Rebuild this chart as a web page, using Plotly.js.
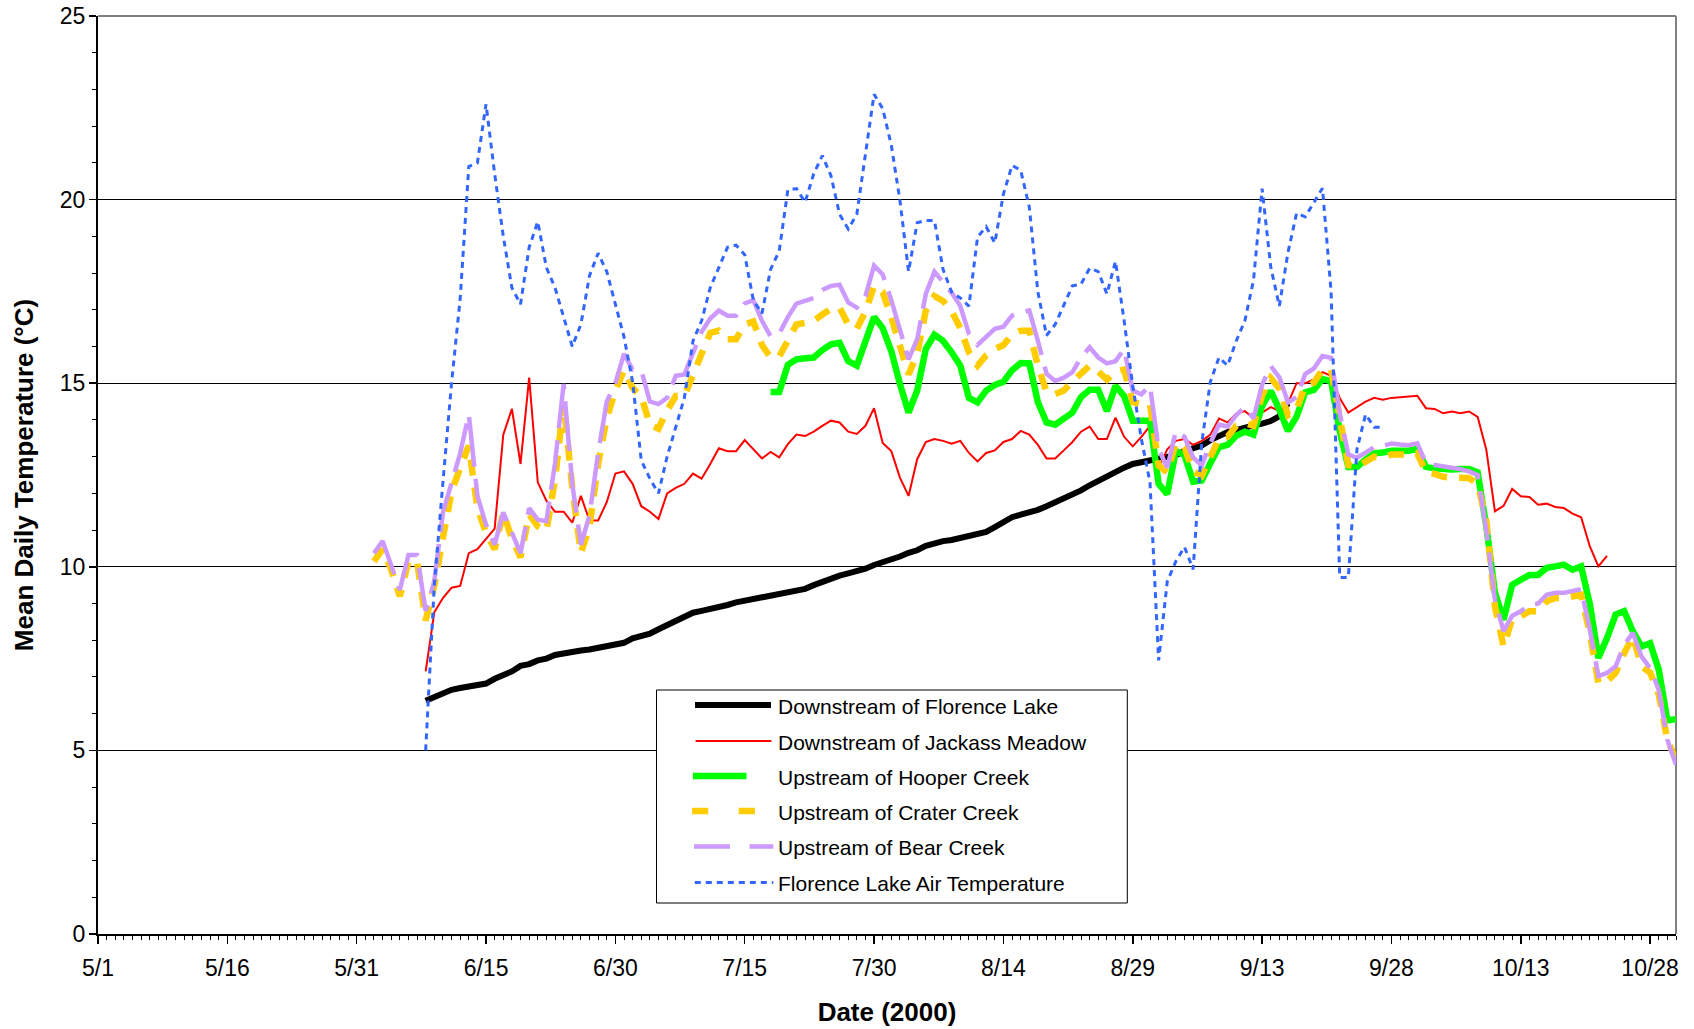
<!DOCTYPE html>
<html>
<head>
<meta charset="utf-8">
<script src="https://cdn.plot.ly/plotly-3.0.1.min.js"></script>
<style>
  html, body { margin: 0; padding: 0; background: #ffffff; }
  #chart { width: 1694px; height: 1029px; }
</style>
</head>
<body>
<div id="chart"></div>
<script>
// Mean daily temperatures (°C), one value per day from each start date.

const florenceStart = '2000-06-08';
const florenceLake = [
  6.35, 6.45, 6.55, 6.65, 6.7, 6.75, 6.8, 6.82, 6.95, 7.05,
  7.15, 7.3, 7.35, 7.45, 7.5, 7.6, 7.65, 7.7, 7.72, 7.75,
  7.8, 7.82, 7.86, 7.93, 8.05, 8.1, 8.18, 8.3, 8.42, 8.53,
  8.65, 8.75, 8.8, 8.84, 8.88, 8.96, 9.03, 9.08, 9.12, 9.15,
  9.2, 9.25, 9.3, 9.34, 9.4, 9.5, 9.6, 9.68, 9.76, 9.82,
  9.87, 9.95, 10.05, 10.12, 10.2, 10.28, 10.38, 10.45, 10.57, 10.65,
  10.7, 10.73, 10.78, 10.82, 10.88, 10.95, 11.08, 11.2, 11.35, 11.42,
  11.48, 11.55, 11.65, 11.76, 11.85, 11.95, 12.08, 12.22, 12.35, 12.48,
  12.6, 12.7, 12.8, 12.85, 12.88, 12.92, 12.98, 13.04, 13.15, 13.22,
  13.3, 13.45, 13.58, 13.67, 13.72, 13.8, 13.85, 13.9, 13.97, 14.1,
  14.45
];

const jackassStart = '2000-06-08';
const jackassMeadow = [
  7.15, 8.76, 9.15, 9.43, 9.48, 10.37, 10.48, 10.76, 11.04, 13.6,
  14.3, 12.8, 15.15, 12.3, 11.8, 11.5, 11.5, 11.2, 11.93, 11.26,
  11.26, 11.76, 12.54, 12.6, 12.26, 11.65, 11.5, 11.3, 12.0, 12.15,
  12.26, 12.54, 12.4, 12.8, 13.23, 13.15, 13.15, 13.45, 13.2, 12.95,
  13.13, 12.98, 13.34, 13.6, 13.56, 13.68, 13.84, 13.98, 13.93, 13.68,
  13.62, 13.84, 14.32, 13.37, 13.15, 12.43, 11.93, 12.93, 13.4, 13.48,
  13.43, 13.35, 13.43, 13.1, 12.87, 13.1, 13.17, 13.4, 13.48, 13.7,
  13.6, 13.32, 12.95, 12.95, 13.17, 13.4, 13.68, 13.82, 13.48, 13.48,
  14.06, 13.54, 13.28, 13.54, 13.84, 12.7, 13.2, 13.43, 13.48, 13.32,
  13.43, 13.6, 14.04, 13.93, 14.17, 14.24, 14.05, 14.2, 14.35, 14.25,
  14.45, 15.0, 15.0, 15.1, 15.3, 15.2, 14.6, 14.2, 14.35, 14.5,
  14.6, 14.55, 14.6, 14.62, 14.62, 14.66, 14.32, 14.3, 14.18, 14.23,
  14.18, 14.23, 14.08, 13.19, 11.51, 11.66, 12.12, 11.92, 11.9, 11.69,
  11.72, 11.63, 11.6, 11.45, 11.35, 10.56, 10.01, 10.3
];

const hooperStart = '2000-07-18';
const hooperCreek = [
  14.76, 14.76, 15.5, 15.65, 15.68, 15.7, 15.9, 16.06, 16.1, 15.6,
  15.48, 16.15, 16.8, 16.5, 15.87, 14.98, 14.2, 14.8, 15.93, 16.32,
  16.15, 15.84, 15.48, 14.6, 14.48, 14.8, 14.95, 15.04, 15.35, 15.55,
  15.54, 14.48, 13.93, 13.87, 14.06, 14.2, 14.62, 14.82, 14.82, 14.24,
  14.93, 14.65, 13.98, 13.98, 13.98, 12.26, 11.98, 13.15, 13.04, 12.32,
  12.35, 12.82, 13.26, 13.32, 13.57, 13.68, 13.6, 14.38, 14.79, 14.28,
  13.7, 14.09, 14.75, 14.82, 15.11, 15.06, 13.7, 12.72, 12.72, 12.92,
  13.09, 13.11, 13.16, 13.16, 13.16, 13.21, 12.72, 12.68, 12.65, 12.65,
  12.66, 12.66, 12.57, 11.1, 9.3, 8.56, 9.51, 9.67, 9.78, 9.78,
  9.97, 10.01, 10.06, 9.92, 10.01, 9.0, 7.52, 8.06, 8.7, 8.79,
  8.24, 7.83, 7.92, 7.2, 5.82, 5.85
];

const craterStart = '2000-06-02';
const craterCreek = [
  10.15, 10.48, 9.93, 9.2, 10.15, 10.15, 8.54, 9.48, 10.8, 12.04,
  12.7, 13.3, 11.6, 10.93, 10.48, 11.48, 10.76, 10.26, 11.43, 11.1,
  10.98, 12.37, 14.48, 12.15, 10.37, 11.1, 12.8, 14.05, 14.8, 15.35,
  14.87, 14.65, 13.87, 13.76, 14.26, 14.65, 14.65, 15.26, 15.8, 16.37,
  16.43, 16.2, 16.2, 16.6, 16.68, 16.04, 15.7, 15.73, 16.15, 16.6,
  16.64, 16.7, 16.87, 17.02, 17.06, 16.6, 16.48, 16.95, 17.65, 17.48,
  16.8, 15.98, 15.24, 15.8, 16.98, 17.37, 17.24, 16.96, 16.5, 15.84,
  15.48, 15.76, 15.93, 16.04, 16.32, 16.43, 16.43, 15.48, 14.76, 14.7,
  14.8, 15.04, 15.26, 15.48, 15.32, 15.1, 15.32, 15.37, 14.48, 14.43,
  14.43, 12.76, 12.57, 13.37, 13.26, 12.6, 12.48, 13.04, 13.5, 13.54,
  13.84, 13.91, 13.84, 14.67, 15.14, 14.86, 14.13, 14.28, 14.94, 15.01,
  15.37, 15.37, 13.99, 12.77, 12.72, 12.87, 13.0, 12.97, 13.06, 13.06,
  13.04, 13.09, 12.58, 12.53, 12.45, 12.43, 12.42, 12.42, 12.26, 11.25,
  8.92, 7.83, 8.58, 8.65, 8.79, 8.79, 9.06, 9.15, 9.15, 9.2,
  9.24, 8.2, 6.83, 6.88, 7.11, 7.65, 8.11, 7.29, 7.12, 6.52,
  5.29, 4.75
];

const bearStart = '2000-06-02';
const bearCreek = [
  10.37, 10.7, 10.04, 9.37, 10.32, 10.32, 8.8, 9.6, 11.48, 12.3,
  13.09, 14.15, 11.93, 11.15, 10.6, 11.48, 10.93, 10.37, 11.6, 11.28,
  11.24, 12.82, 14.98, 12.26, 10.6, 11.4, 13.1, 14.5, 15.0, 15.8,
  15.37, 15.35, 14.5, 14.43, 14.6, 15.2, 15.24, 15.8, 16.4, 16.76,
  16.98, 16.84, 16.84, 17.17, 17.26, 16.7, 16.28, 16.35, 16.8, 17.17,
  17.26, 17.32, 17.54, 17.65, 17.68, 17.2, 17.06, 17.37, 18.2, 17.96,
  17.26, 16.43, 15.65, 16.2, 17.43, 18.04, 17.76, 17.46, 17.1, 16.35,
  16.04, 16.24, 16.48, 16.54, 16.84, 16.93, 16.98, 16.15, 15.26, 15.06,
  15.15, 15.3, 15.7, 15.98, 15.7, 15.54, 15.6, 15.93, 14.8, 14.7,
  14.93, 13.2, 12.7, 13.7, 13.54, 12.98, 12.76, 13.37, 13.87, 13.82,
  14.13, 14.35, 14.04, 14.96, 15.47, 15.16, 14.48, 14.62, 15.25, 15.4,
  15.74, 15.69, 14.18, 13.06, 12.97, 13.11, 13.26, 13.29, 13.36, 13.33,
  13.31, 13.36, 12.82, 12.77, 12.72, 12.7, 12.66, 12.6, 12.5, 11.0,
  9.1, 8.25, 8.67, 8.79, 8.97, 9.0, 9.24, 9.29, 9.29, 9.33,
  9.39, 8.3, 7.02, 7.11, 7.29, 7.88, 8.2, 7.56, 7.24, 6.65,
  5.29, 4.61
];

const airStart = '2000-06-08';
const airTemperature = [
  5.0, 9.5, 12.3, 15.0, 17.3, 20.9, 21.0, 22.6, 20.7, 19.0,
  17.6, 17.15, 18.7, 19.4, 18.15, 17.6, 16.8, 16.0, 16.6, 17.93,
  18.54, 18.04, 17.15, 16.26, 15.04, 12.9, 12.4, 12.0, 13.0, 13.8,
  14.6, 16.15, 16.7, 17.6, 18.15, 18.7, 18.76, 18.5, 17.26, 16.9,
  18.1, 18.6, 20.26, 20.3, 19.93, 20.7, 21.2, 20.65, 19.6, 19.2,
  19.6, 21.26, 22.87, 22.48, 21.48, 19.98, 18.04, 19.37, 19.43, 19.43,
  18.1, 17.48, 17.32, 17.1, 18.98, 19.26, 18.82, 20.15, 20.93, 20.8,
  19.8, 17.48, 16.3, 16.6, 17.15, 17.65, 17.7, 18.13, 18.04, 17.43,
  18.32, 16.7, 14.93, 13.48, 12.3, 7.45, 9.6, 10.15, 10.54, 9.93,
  13.37, 15.04, 15.7, 15.48, 16.15, 16.7, 17.8, 20.3, 18.17, 17.1,
  18.56, 19.63, 19.53, 19.92, 20.31, 17.5, 9.71, 9.71, 13.2, 14.15,
  13.8, 13.8
];

const seriesNames = [
  'Downstream of Florence Lake',
  'Downstream of Jackass Meadow',
  'Upstream of Hooper Creek',
  'Upstream of Crater Creek',
  'Upstream of Bear Creek',
  'Florence Lake Air Temperature'
];

const xAxisTitle = 'Date (2000)';
const yAxisTitle = 'Mean Daily Temperature (°C)';

// ---- helpers -------------------------------------------------------------

function dailyDates(start, count) {
  const t0 = Date.parse(start + 'T00:00:00Z');
  const out = [];
  for (let i = 0; i < count; i++) {
    out.push(new Date(t0 + i * 86400000).toISOString().slice(0, 10));
  }
  return out;
}

const FONT = 'Liberation Sans, Arial, Helvetica, sans-serif';
const W = 1694, H = 1029;
const margin = { l: 98, r: 18, t: 16, b: 95 };
const plotW = W - margin.l - margin.r;
const plotH = H - margin.t - margin.b;
// page pixel -> paper fraction (used for the legend block)
const px = x => (x - margin.l) / plotW;
const py = y => (H - margin.b - y) / plotH;

// ---- line styles ---------------------------------------------------------

const styles = [
  { color: '#000000', width: 6,   dash: 'solid' },
  { color: '#FF0000', width: 2,   dash: 'solid' },
  { color: '#00FF00', width: 6.5, dash: 'solid' },
  { color: '#FFCC00', width: 6.5, dash: '16px,12px' },
  { color: '#CC99FF', width: 4.5, dash: '50px,12px' },
  { color: '#3366FF', width: 3,   dash: '6px,5px' }
];

const seriesData = [
  [florenceStart, florenceLake],
  [jackassStart, jackassMeadow],
  [hooperStart, hooperCreek],
  [craterStart, craterCreek],
  [bearStart, bearCreek],
  [airStart, airTemperature]
];

const traces = seriesData.map(([start, vals], i) => ({
  type: 'scatter',
  mode: 'lines',
  name: seriesNames[i],
  x: dailyDates(start, vals.length),
  y: vals,
  line: { color: styles[i].color, width: styles[i].width, dash: styles[i].dash },
  showlegend: false,
  hoverinfo: 'skip'
}));

// ---- legend block --------------------------------------------------------

const legendBox = { x0: 656.5, x1: 1127.3, y0: 690, y1: 903 };
const legendRows = [705, 741, 776, 811, 846.5, 882.5];
const legendTextX = 776;
const legendSamples = [
  [[695, 771]],
  [[695.6, 771.4]],
  [[692.9, 746.5]],
  [[692.1, 708.2], [738.8, 754.9]],
  [[694, 730], [749.5, 773.3]],
  [[694.8, 773.3]]
];

const shapes = [
  // upper and right frame of the plot area
  { type: 'line', xref: 'paper', yref: 'paper', x0: 0, x1: 1, y0: 1, y1: 1,
    line: { color: '#808080', width: 2 }, layer: 'between' },
  { type: 'line', xref: 'paper', yref: 'paper', x0: 1, x1: 1, y0: 0, y1: 1,
    line: { color: '#808080', width: 2 }, layer: 'between' },
  { type: 'rect', xref: 'paper', yref: 'paper',
    x0: px(legendBox.x0), x1: px(legendBox.x1), y0: py(legendBox.y1), y1: py(legendBox.y0),
    line: { color: '#000000', width: 1 }, fillcolor: '#ffffff', layer: 'above' }
];

legendSamples.forEach((segs, i) => {
  const st = styles[i];
  segs.forEach(([a, b]) => {
    shapes.push({
      type: 'line', xref: 'paper', yref: 'paper',
      x0: px(a), x1: px(b), y0: py(legendRows[i]), y1: py(legendRows[i]),
      line: { color: st.color, width: st.width, dash: i === 5 ? st.dash : 'solid' },
      layer: 'above'
    });
  });
});

const annotations = seriesNames.map((name, i) => ({
  xref: 'paper', yref: 'paper',
  x: px(legendTextX), y: py(legendRows[i] + 1),
  xanchor: 'left', yanchor: 'middle',
  text: name, showarrow: false,
  font: { family: FONT, size: 21, color: '#000000' }
}));

// ---- axes ----------------------------------------------------------------

const DAY = 86400000;
const xRange = ['2000-05-01', '2000-10-31'];

const layout = {
  width: W, height: H,
  margin: margin,
  paper_bgcolor: '#ffffff',
  plot_bgcolor: '#ffffff',
  showlegend: false,
  hovermode: false,
  xaxis: {
    type: 'date', range: xRange,
    tick0: '2000-05-01', dtick: 15 * DAY, tickformat: '%-m/%-d',
    ticks: 'outside', ticklen: 8, tickwidth: 1.5, tickcolor: '#000000',
    minor: { dtick: DAY, ticks: 'outside', ticklen: 4, tickwidth: 1, tickcolor: '#000000', showgrid: false },
    showline: true, linecolor: '#000000', linewidth: 2,
    showgrid: false, zeroline: false,
    tickfont: { family: FONT, size: 23, color: '#000000' },
    ticklabelstandoff: 4,
    title: { text: xAxisTitle, standoff: 23,
             font: { family: FONT, size: 26, color: '#000000', weight: 'bold' } },
    fixedrange: true
  },
  // same date scale, ticks drawn upward so every day mark crosses the axis line
  xaxis2: {
    type: 'date', range: xRange, overlaying: 'x', anchor: 'y', side: 'bottom',
    tick0: '2000-05-01', dtick: 15 * DAY,
    ticks: 'inside', ticklen: 4, tickwidth: 1.5, tickcolor: '#000000',
    minor: { dtick: DAY, ticks: 'inside', ticklen: 4, tickwidth: 1, tickcolor: '#000000', showgrid: false },
    showticklabels: false, showline: false, showgrid: false, zeroline: false,
    fixedrange: true
  },
  yaxis: {
    range: [0, 25], tick0: 0, dtick: 5,
    ticks: 'outside', ticklen: 7, tickwidth: 1.5, tickcolor: '#000000',
    minor: { dtick: 1, ticks: 'outside', ticklen: 4, tickwidth: 1, tickcolor: '#000000', showgrid: false },
    showline: true, linecolor: '#000000', linewidth: 2,
    showgrid: true, gridcolor: '#000000', gridwidth: 1, zeroline: false,
    tickfont: { family: FONT, size: 23, color: '#000000' },
    ticklabelstandoff: -1,
    title: { text: yAxisTitle, standoff: 19,
             font: { family: FONT, size: 26, color: '#000000', weight: 'bold' } },
    fixedrange: true
  },
  shapes: shapes,
  annotations: annotations
};

Plotly.newPlot('chart', traces, layout, { staticPlot: true, displayModeBar: false });
</script>
</body>
</html>
